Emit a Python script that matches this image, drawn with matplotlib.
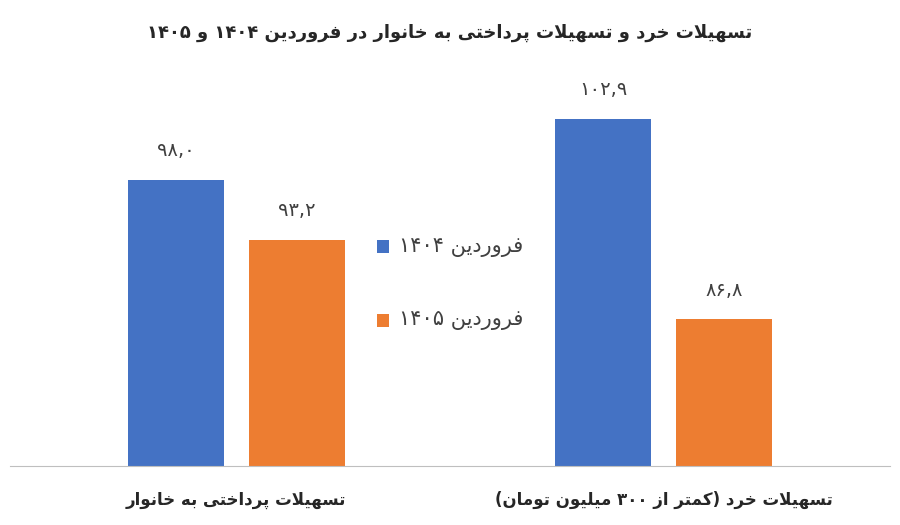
import matplotlib
matplotlib.use('Agg')
import matplotlib.pyplot as plt
from matplotlib.patches import Rectangle

# simple Persian shaping: letter -> (isolated, final, initial, medial)
FORMS = {
    'ا': ('\uFE8D', '\uFE8E', None, None), 'ب': ('\uFE8F', '\uFE90', '\uFE91', '\uFE92'),
    'ت': ('\uFE95', '\uFE96', '\uFE97', '\uFE98'), 'ح': ('\uFEA1', '\uFEA2', '\uFEA3', '\uFEA4'),
    'خ': ('\uFEA5', '\uFEA6', '\uFEA7', '\uFEA8'), 'د': ('\uFEA9', '\uFEAA', None, None),
    'ر': ('\uFEAD', '\uFEAE', None, None), 'ز': ('\uFEAF', '\uFEB0', None, None),
    'س': ('\uFEB1', '\uFEB2', '\uFEB3', '\uFEB4'), 'ط': ('\uFEC1', '\uFEC2', '\uFEC3', '\uFEC4'),
    'ف': ('\uFED1', '\uFED2', '\uFED3', '\uFED4'), 'ل': ('\uFEDD', '\uFEDE', '\uFEDF', '\uFEE0'),
    'م': ('\uFEE1', '\uFEE2', '\uFEE3', '\uFEE4'), 'ن': ('\uFEE5', '\uFEE6', '\uFEE7', '\uFEE8'),
    'ه': ('\uFEE9', '\uFEEA', '\uFEEB', '\uFEEC'), 'و': ('\uFEED', '\uFEEE', None, None),
    'پ': ('\uFB56', '\uFB57', '\uFB58', '\uFB59'), 'ک': ('\uFB8E', '\uFB8F', '\uFB90', '\uFB91'),
    'ی': ('\uFBFC', '\uFBFD', '\uFBFE', '\uFBFF'),
    'لا': ('\uFEFB', '\uFEFC', None, None),
}
DIGITS = set('۰۱۲۳۴۵۶۷۸۹,0123456789')


def shape(s):
    # merge lam-alef
    chars = []
    i = 0
    while i < len(s):
        if s[i] == 'ل' and i + 1 < len(s) and s[i + 1] == 'ا':
            chars.append('لا')
            i += 2
        else:
            chars.append(s[i])
            i += 1
    out = []
    for k, c in enumerate(chars):
        if c not in FORMS:
            out.append(c)
            continue
        prev = chars[k - 1] if k > 0 else None
        nxt = chars[k + 1] if k + 1 < len(chars) else None
        join_prev = prev in FORMS and FORMS[prev][2] is not None
        join_next = nxt in FORMS and FORMS[c][2] is not None
        iso, fin, ini, med = FORMS[c]
        if join_prev and join_next:
            out.append(med)
        elif join_prev:
            out.append(fin)
        elif join_next:
            out.append(ini)
        else:
            out.append(iso)
    return out


def fa(s):
    chars = shape(s)
    tokens = []
    for c in chars:
        is_d = c in DIGITS
        if tokens and tokens[-1][0] and is_d:
            tokens[-1][1].append(c)
        else:
            tokens.append((is_d, [c]))
    mirror = {'(': ')', ')': '('}
    res = ''
    for is_d, t in reversed(tokens):
        res += ''.join(t) if is_d else ''.join(mirror.get(c, c) for c in reversed(t))
    return res


title = 'تسهیلات خرد و تسهیلات پرداختی به خانوار در فروردین ۱۴۰۴ و ۱۴۰۵'
categories = ['تسهیلات پرداختی به خانوار', 'تسهیلات خرد (کمتر از ۳۰۰ میلیون تومان)']
series_names = ['فروردین ۱۴۰۴', 'فروردین ۱۴۰۵']
values_1404 = [98.0, 102.9]
values_1405 = [93.2, 86.8]
labels_1404 = ['۹۸,۰', '۱۰۲,۹']
labels_1405 = ['۹۳,۲', '۸۶,۸']
colors = ['#4472C4', '#ED7D31']

fig = plt.figure(figsize=(9, 5.25), dpi=100)
ax = fig.add_axes([0.011, 0.112, 0.978, 0.77])
off, w = 0.141, 0.225
x = [0, 1]
base = 75
ax.bar([p - off for p in x], [v - base for v in values_1404], w, bottom=base, color=colors[0])
ax.bar([p + off for p in x], [v - base for v in values_1405], w, bottom=base, color=colors[1])
ax.set_xlim(-0.53, 1.53)
ax.set_ylim(base, 107.5)
for p, v, l in zip(x, values_1404, labels_1404):
    ax.text(p - off, v + 1.6, fa(l), ha='center', va='bottom', fontsize=14, color='#404040')
for p, v, l in zip(x, values_1405, labels_1405):
    ax.text(p + off, v + 1.6, fa(l), ha='center', va='bottom', fontsize=14, color='#404040')
for p, c in zip(x, categories):
    ax.text(p, base - 2.7, fa(c), ha='center', va='center', fontsize=12, fontweight='bold', color='#262626')

for s in ['top', 'right', 'left']:
    ax.spines[s].set_visible(False)
ax.spines['bottom'].set_color('#bfbfbf')
ax.set_xticks([])
ax.set_yticks([])

# legend inside the chart
for i, (name, c) in enumerate(zip(series_names, colors)):
    y = 0.53 - i * 0.14
    fig.add_artist(Rectangle((0.419, y - 0.012), 0.013, 0.024, transform=fig.transFigure,
                             facecolor=c, edgecolor='none'))
    fig.text(0.443, y, fa(name), ha='left', va='center', fontsize=15, color='#404040')

fig.text(0.5, 0.937, fa(title), ha='center', va='center', fontsize=13, fontweight='bold', color='#262626')
fig.savefig('out.png', dpi=100)
